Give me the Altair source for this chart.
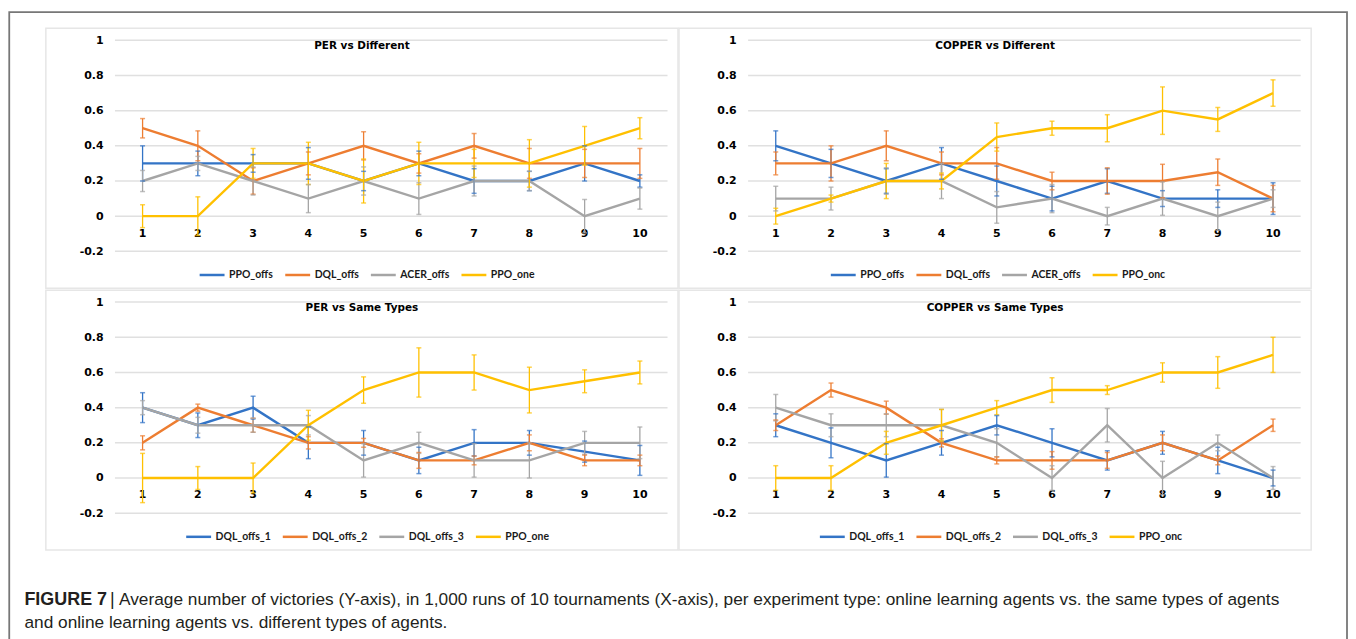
import altair as alt
import pandas as pd

# ---------------- data ----------------
tournaments = [1, 2, 3, 4, 5, 6, 7, 8, 9, 10]
x_tick_labels = ["1", "2", "3", "4", "5", "6", "7", "8", "9", "10"]
y_tick_values = [-0.2, 0.0, 0.2, 0.4, 0.6, 0.8, 1.0]

colors = ["#3374c6", "#ed7d31", "#a5a5a5", "#ffc000"]

# Panel 1: PER vs Different
p1_title = "PER vs Different"
p1_series = ["PPO_offs", "DQL_offs", "ACER_offs", "PPO_one"]
p1_ppo_offs = [0.3, 0.3, 0.3, 0.3, 0.2, 0.3, 0.2, 0.2, 0.3, 0.2]
p1_ppo_offs_err = [0.1, 0.07, 0.05, 0.09, 0.055, 0.07, 0.07, 0.055, 0.1, 0.035]
p1_dql_offs = [0.5, 0.4, 0.2, 0.3, 0.4, 0.3, 0.4, 0.3, 0.3, 0.3]
p1_dql_offs_err = [0.055, 0.085, 0.075, 0.065, 0.08, 0.055, 0.07, 0.085, 0.08, 0.085]
p1_acer_offs = [0.2, 0.3, 0.2, 0.1, 0.2, 0.1, 0.2, 0.2, 0.0, 0.1]
p1_acer_offs_err = [0.06, 0.04, 0.08, 0.08, 0.08, 0.09, 0.085, 0.055, 0.095, 0.06]
p1_ppo_one = [0.0, 0.0, 0.3, 0.3, 0.2, 0.3, 0.3, 0.3, 0.4, 0.5]
p1_ppo_one_err = [0.065, 0.11, 0.085, 0.12, 0.125, 0.12, 0.08, 0.135, 0.11, 0.06]

# Panel 2: COPPER vs Different
p2_title = "COPPER vs Different"
p2_series = ["PPO_offs", "DQL_offs", "ACER_offs", "PPO_onc"]
p2_ppo_offs = [0.4, 0.3, 0.2, 0.3, 0.2, 0.1, 0.2, 0.1, 0.1, 0.1]
p2_ppo_offs_err = [0.085, 0.08, 0.07, 0.09, 0.085, 0.07, 0.07, 0.045, 0.05, 0.09]
p2_dql_offs = [0.3, 0.3, 0.4, 0.3, 0.3, 0.2, 0.2, 0.2, 0.25, 0.1]
p2_dql_offs_err = [0.065, 0.1, 0.085, 0.065, 0.09, 0.05, 0.075, 0.095, 0.075, 0.075]
p2_acer_offs = [0.1, 0.1, 0.2, 0.2, 0.05, 0.1, 0.0, 0.1, 0.0, 0.1]
p2_acer_offs_err = [0.07, 0.065, 0.075, 0.1, 0.09, 0.08, 0.05, 0.095, 0.08, 0.05]
p2_ppo_onc = [0.0, 0.1, 0.2, 0.2, 0.45, 0.5, 0.5, 0.6, 0.55, 0.7]
p2_ppo_onc_err = [0.045, 0.02, 0.1, 0.045, 0.08, 0.04, 0.077, 0.135, 0.068, 0.075]

# Panel 3: PER vs Same Types
p3_title = "PER vs Same Types"
p3_series = ["DQL_offs_1", "DQL_offs_2", "DQL_offs_3", "PPO_one"]
p3_dql_1 = [0.4, 0.3, 0.4, 0.2, 0.2, 0.1, 0.2, 0.2, 0.15, 0.1]
p3_dql_1_err = [0.085, 0.07, 0.065, 0.09, 0.07, 0.075, 0.075, 0.07, 0.06, 0.085]
p3_dql_2 = [0.2, 0.4, 0.3, 0.2, 0.2, 0.1, 0.1, 0.2, 0.1, 0.1]
p3_dql_2_err = [0.04, 0.02, 0.04, 0.035, 0.025, 0.045, 0.025, 0.045, 0.03, 0.03]
p3_dql_3 = [0.4, 0.3, 0.3, 0.3, 0.1, 0.2, 0.1, 0.1, 0.2, 0.2]
p3_dql_3_err = [0.04, 0.045, 0.04, 0.055, 0.095, 0.06, 0.095, 0.1, 0.065, 0.09]
p3_ppo_one = [0.0, 0.0, 0.0, 0.3, 0.5, 0.6, 0.6, 0.5, 0.55, 0.6]
p3_ppo_one_err = [0.14, 0.065, 0.085, 0.085, 0.075, 0.14, 0.1, 0.13, 0.065, 0.065]

# Panel 4: COPPER vs Same Types
p4_title = "COPPER vs Same Types"
p4_series = ["DQL_offs_1", "DQL_offs_2", "DQL_offs_3", "PPO_onc"]
p4_dql_1 = [0.3, 0.2, 0.1, 0.2, 0.3, 0.2, 0.1, 0.2, 0.1, 0.0]
p4_dql_1_err = [0.065, 0.085, 0.095, 0.07, 0.055, 0.08, 0.055, 0.065, 0.075, 0.045]
p4_dql_2 = [0.3, 0.5, 0.4, 0.2, 0.1, 0.1, 0.1, 0.2, 0.1, 0.3]
p4_dql_2_err = [0.03, 0.04, 0.037, 0.023, 0.02, 0.05, 0.045, 0.045, 0.025, 0.035]
p4_dql_3 = [0.4, 0.3, 0.3, 0.3, 0.2, 0.0, 0.3, 0.0, 0.2, 0.0]
p4_dql_3_err = [0.075, 0.065, 0.065, 0.09, 0.08, 0.07, 0.095, 0.095, 0.045, 0.065]
p4_ppo_onc = [0.0, 0.0, 0.2, 0.3, 0.4, 0.5, 0.5, 0.6, 0.6, 0.7]
p4_ppo_onc_err = [0.07, 0.07, 0.065, 0.09, 0.04, 0.07, 0.025, 0.055, 0.09, 0.1]

caption_bold = "FIGURE 7"
caption_bar = "|"
caption_line1 = ("Average number of victories (Y-axis), in 1,000 runs of 10 tournaments (X-axis), "
                 "per experiment type: online learning agents vs. the same types of agents")
caption_line2 = "and online learning agents vs. different types of agents."

# ---------------- layout / style ----------------
PW, PH = 635, 261
X_DOMAIN = [-0.751, 10.69]
Y_DOMAIN = [-0.4094, 1.0679]
LABEL_FONT = "DejaVu Sans"
LEGEND_FONT = "Lato"


def make_panel(title, names, values, errs, legend_x):
    rows = []
    for name, vals, es in zip(names, values, errs):
        for t, v, e in zip(tournaments, vals, es):
            rows.append({"t": t, "series": name, "value": v, "lo": v - e, "hi": v + e})
    df = pd.DataFrame(rows)

    xs = alt.Scale(domain=X_DOMAIN, nice=False, zero=False)
    ys = alt.Scale(domain=Y_DOMAIN, nice=False, zero=False)
    cscale = alt.Scale(domain=names, range=colors)
    y_axis = alt.Axis(
        values=y_tick_values, format="~g",
        labelExpr="replace(datum.label, '\u2212', '-')",
        grid=False, domain=False, ticks=False, tickSize=0,
        labelPadding=0, offset=-57.5, minExtent=0,
        labelFont=LABEL_FONT, labelFontSize=11, labelFontWeight="bold",
        labelColor="#000000", title=None)

    grid = alt.Chart(pd.DataFrame({"g": y_tick_values})).mark_rule(
        color="#e0e0e0", strokeWidth=1.5
    ).encode(
        y=alt.Y("g:Q", scale=ys, axis=y_axis),
        x=alt.datum(0.5, scale=xs, axis=None),
        x2=alt.datum(10.5),
    )

    xlabels = alt.Chart(pd.DataFrame({"t": tournaments, "lab": x_tick_labels})).mark_text(
        font=LABEL_FONT, fontSize=11, fontWeight="bold", color="#000000",
        baseline="middle", dy=17.5
    ).encode(
        x=alt.X("t:Q", scale=xs, axis=None),
        y=alt.YDatum(0.0, scale=ys, axis=y_axis),
        text="lab:N",
    )

    color_leg = alt.Color("series:N", scale=cscale, sort=names, legend=alt.Legend(
        orient="none", legendX=legend_x, legendY=233.5, direction="horizontal",
        title=None, symbolType="stroke", symbolSize=625, symbolStrokeWidth=2.5,
        labelFont=LEGEND_FONT, labelFontSize=10.5, labelFontWeight="bold",
        labelColor="#1a1a1a", labelOffset=3, columnPadding=6, padding=0))
    color_noleg = alt.Color("series:N", scale=cscale, sort=names, legend=None)

    lines = alt.Chart(df).mark_line(strokeWidth=2.4).encode(
        x=alt.X("t:Q", scale=xs, axis=None),
        y=alt.Y("value:Q", scale=ys, axis=y_axis),
        color=color_leg,
    )
    bars = alt.Chart(df).mark_rule(strokeWidth=1.3).encode(
        x=alt.X("t:Q", scale=xs, axis=None),
        y=alt.Y("lo:Q", scale=ys, axis=y_axis),
        y2="hi:Q",
        color=color_noleg,
    )
    cap_lo = alt.Chart(df).mark_tick(orient="horizontal", size=5, thickness=1.5).encode(
        x=alt.X("t:Q", scale=xs, axis=None),
        y=alt.Y("lo:Q", scale=ys, axis=y_axis),
        color=color_noleg,
    )
    cap_hi = alt.Chart(df).mark_tick(orient="horizontal", size=5, thickness=1.5).encode(
        x=alt.X("t:Q", scale=xs, axis=None),
        y=alt.Y("hi:Q", scale=ys, axis=y_axis),
        color=color_noleg,
    )
    ttl = alt.Chart(pd.DataFrame({"title": [title]})).mark_text(
        font=LABEL_FONT, fontSize=10.5, fontWeight="bold", color="#000000",
        baseline="middle", align="center"
    ).encode(text="title:N", x=alt.value(PW / 2), y=alt.value(17.5))

    return alt.layer(grid, xlabels, lines, bars, cap_lo, cap_hi, ttl).properties(
        width=PW, height=PH,
        view=alt.ViewBackground(stroke="#e6e6e6", strokeWidth=1.5, fill="white"),
    )


p1 = make_panel(p1_title, p1_series,
                [p1_ppo_offs, p1_dql_offs, p1_acer_offs, p1_ppo_one],
                [p1_ppo_offs_err, p1_dql_offs_err, p1_acer_offs_err, p1_ppo_one_err], 153)
p2 = make_panel(p2_title, p2_series,
                [p2_ppo_offs, p2_dql_offs, p2_acer_offs, p2_ppo_onc],
                [p2_ppo_offs_err, p2_dql_offs_err, p2_acer_offs_err, p2_ppo_onc_err], 151)
p3 = make_panel(p3_title, p3_series,
                [p3_dql_1, p3_dql_2, p3_dql_3, p3_ppo_one],
                [p3_dql_1_err, p3_dql_2_err, p3_dql_3_err, p3_ppo_one_err], 139.5)
p4 = make_panel(p4_title, p4_series,
                [p4_dql_1, p4_dql_2, p4_dql_3, p4_ppo_onc],
                [p4_dql_1_err, p4_dql_2_err, p4_dql_3_err, p4_ppo_onc_err], 140)

# caption + outer frame
CAP_FONT = "Liberation Sans"
one = pd.DataFrame({"k": [0]})
frame = alt.Chart(one).mark_rect(fillOpacity=0, stroke="#777777", strokeWidth=1.8).encode(
    x=alt.value(-36.75), x2=alt.value(1307), y=alt.value(-542.25), y2=alt.value(98))
cap_b = alt.Chart(pd.DataFrame({"s": [caption_bold]})).mark_text(
    font=CAP_FONT, fontSize=18, fontWeight="bold", color="#231f20", align="left",
    baseline="alphabetic").encode(text="s:N", x=alt.value(-21.5), y=alt.value(53))
cap_bar = alt.Chart(pd.DataFrame({"s": [caption_bar]})).mark_text(
    font=CAP_FONT, fontSize=18, color="#231f20", align="left",
    baseline="alphabetic").encode(text="s:N", x=alt.value(64.5), y=alt.value(53))
cap_1 = alt.Chart(pd.DataFrame({"s": [caption_line1]})).mark_text(
    font=CAP_FONT, fontSize=17.35, color="#231f20", align="left",
    baseline="alphabetic").encode(text="s:N", x=alt.value(73.5), y=alt.value(53))
cap_2 = alt.Chart(pd.DataFrame({"s": [caption_line2]})).mark_text(
    font=CAP_FONT, fontSize=17.35, color="#231f20", align="left",
    baseline="alphabetic").encode(text="s:N", x=alt.value(-21.5), y=alt.value(76))
caption = alt.layer(frame, cap_b, cap_bar, cap_1, cap_2).properties(
    width=PW, height=80, view=alt.ViewBackground(strokeOpacity=0))

chart = alt.concat(p1, p2, p3, p4, caption, columns=2,
                   spacing=alt.RowColnumber(row=2, column=1), bounds="flush").resolve_scale(
    color="independent"
).properties(
    padding={"left": 0, "top": 1, "right": 0, "bottom": 0},
    background="white",
).configure(font="DejaVu Sans")

chart.save("out.html", embed_options={"renderer": "svg", "actions": False})
